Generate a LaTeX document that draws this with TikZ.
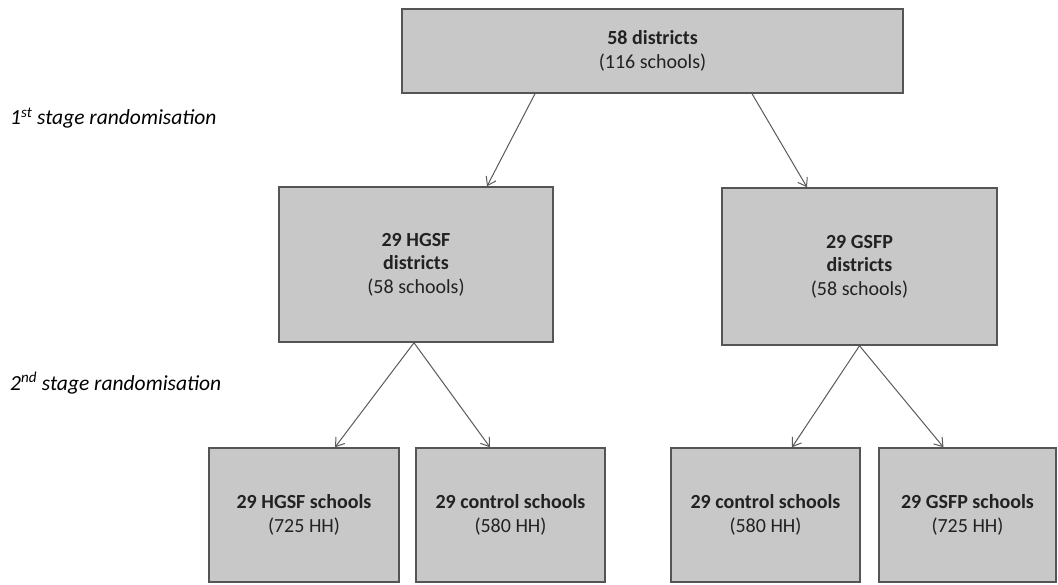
\documentclass[tikz,border=0pt]{standalone}
\usepackage{fontspec}
\setmainfont{Carlito}
\usetikzlibrary{arrows.meta}
\definecolor{boxfill}{HTML}{C8C8C8}
\definecolor{boxline}{HTML}{555555}
\definecolor{arrowc}{HTML}{5A5A5A}
\definecolor{txt}{HTML}{222222}
\tikzset{
  box/.style={draw=boxline, line width=1.5pt, fill=boxfill, align=center,
    inner sep=0pt, text=txt, font=\fontsize{20}{23.5}\selectfont},
  conn/.style={draw=arrowc, line width=1pt, -{Straight Barb[length=8pt,width=11pt]}},
  stagelabel/.style={anchor=west, inner sep=0pt, text=black, font=\fontsize{21.5}{24}\selectfont\itshape}
}
\begin{document}
\begin{tikzpicture}[x=1pt,y=-1pt]
\useasboundingbox (0,0) rectangle (1058,584);
\node[box, minimum width=501pt, minimum height=84pt] (top) at (652.5,51)
  {\textbf{58 districts}\\(116 schools)};
\node[box, minimum width=274pt, minimum height=155pt] (ml) at (416,264.5)
  {\textbf{29 HGSF}\\\textbf{districts}\\(58 schools)};
\node[box, minimum width=275pt, minimum height=157pt] (mr) at (859.5,266.5)
  {\textbf{29 GSFP}\\\textbf{districts}\\(58 schools)};
\node[box, minimum width=190pt, minimum height=134pt] (b1) at (304,515)
  {\textbf{29 HGSF schools}\\(725 HH)};
\node[box, minimum width=189pt, minimum height=134pt] (b2) at (510.5,515)
  {\textbf{29 control schools}\\(580 HH)};
\node[box, minimum width=189pt, minimum height=134pt] (b3) at (765.5,515)
  {\textbf{29 control schools}\\(580 HH)};
\node[box, minimum width=177pt, minimum height=134pt] (b4) at (967.5,515)
  {\textbf{29 GSFP schools}\\(725 HH)};
\node[stagelabel] (s1) at (10,118) {1\textsuperscript{st} stage randomisation};
\node[stagelabel] (s2) at (10,383) {2\textsuperscript{nd} stage randomisation};
\draw[conn] ([xshift=-117.5pt]top.south) -- ([xshift=71pt]ml.north);
\draw[conn] ([xshift=99.5pt]top.south) -- ([xshift=-52.5pt]mr.north);
\draw[conn] ([xshift=-2pt]ml.south) -- ([xshift=31pt]b1.north);
\draw[conn] ([xshift=-2pt]ml.south) -- ([xshift=-20.5pt]b2.north);
\draw[conn] (mr.south) -- ([xshift=26.5pt]b3.north);
\draw[conn] (mr.south) -- ([xshift=-24pt]b4.north);
\end{tikzpicture}
\end{document}
